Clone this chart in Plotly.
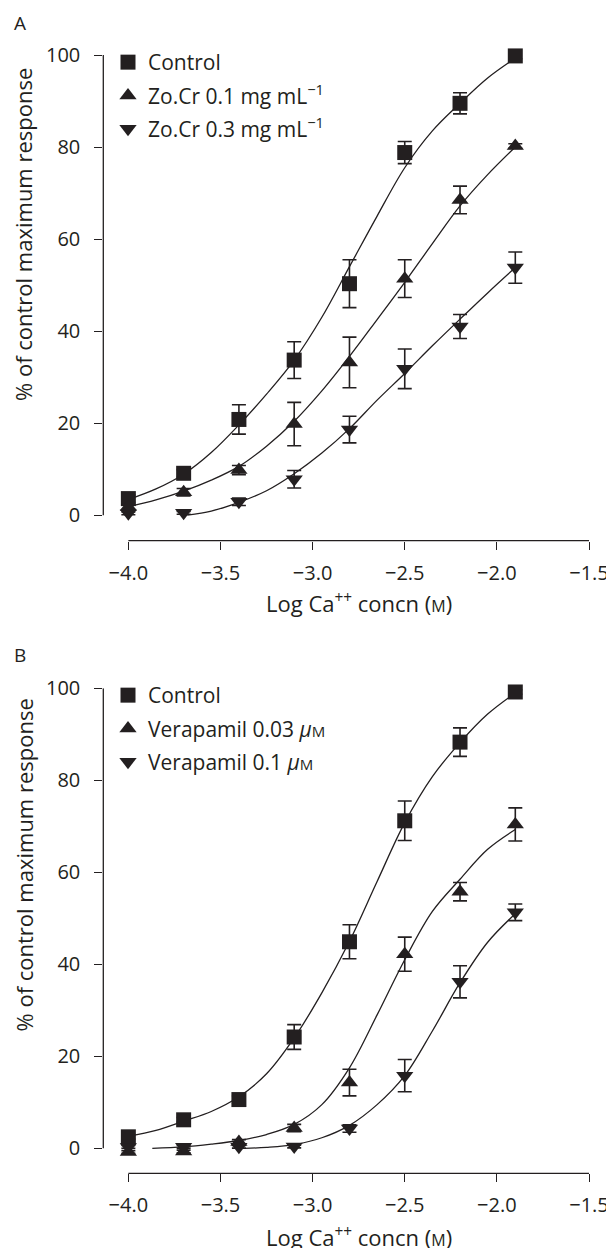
import plotly.graph_objects as go

# ---------------- data ----------------
log_ca = [-4.0, -3.7, -3.4, -3.1, -2.8, -2.5, -2.2, -1.9]
x_ticks = [-4.0, -3.5, -3.0, -2.5, -2.0, -1.5]
x_tick_labels = ["\u22124.0", "\u22123.5", "\u22123.0", "\u22122.5", "\u22122.0", "\u22121.5"]
y_ticks = [0, 20, 40, 60, 80, 100]

# Panel A (mean, SEM)
a_control = [3.6, 9.1, 20.8, 33.7, 50.3, 78.8, 89.5, 99.8]
a_control_sem = [0.8, 0.8, 3.2, 4.0, 5.2, 2.4, 2.3, 0.6]
a_zocr01 = [1.8, 5.0, 9.8, 19.8, 33.2, 51.4, 68.5, 80.2]
a_zocr01_sem = [0.5, 0.8, 1.0, 4.7, 5.5, 4.1, 3.0, 0.5]
a_zocr03 = [0.4, 0.5, 2.9, 7.8, 18.6, 31.8, 41.0, 53.8]
a_zocr03_sem = [0.3, 0.3, 0.8, 1.9, 2.9, 4.3, 2.6, 3.4]

# Panel A fitted curves
a_fit_x = [-4.0, -3.85, -3.7, -3.55, -3.4, -3.25, -3.1, -2.95, -2.8, -2.65, -2.5, -2.35, -2.2, -2.05, -1.9]
a_control_fit = [3.4, 5.7, 8.9, 13.6, 19.6, 26.3, 33.7, 43.0, 54.0, 65.0, 75.5, 83.5, 89.5, 95.0, 99.3]
a_zocr01_fit = [1.8, 3.3, 5.2, 7.6, 10.6, 15.0, 20.4, 27.0, 34.5, 42.5, 50.6, 59.0, 67.2, 74.0, 80.0]
a_zocr03_fit_x = [-3.68, -3.55, -3.4, -3.25, -3.1, -2.95, -2.8, -2.65, -2.5, -2.35, -2.2, -2.05, -1.9]
a_zocr03_fit = [0.0, 0.9, 2.8, 5.3, 9.0, 13.5, 18.8, 25.0, 30.8, 36.8, 42.6, 48.3, 53.8]

# Panel B (mean, SEM)
b_control = [2.5, 6.2, 10.6, 24.2, 44.9, 71.2, 88.3, 99.2]
b_control_sem = [0.5, 0.5, 0.8, 2.7, 3.7, 4.3, 3.1, 0.5]
b_vera003 = [-0.8, -0.7, 1.4, 4.4, 14.3, 42.2, 55.8, 70.4]
b_vera003_sem = [0.3, 0.3, 0.5, 0.8, 2.9, 3.7, 2.0, 3.6]
b_vera01 = [0.3, 0.35, 0.35, 0.4, 4.3, 15.8, 36.2, 51.3]
b_vera01_sem = [0.3, 0.3, 0.3, 0.3, 0.8, 3.5, 3.5, 1.8]

# Panel B fitted curves
b_fit_x = [-4.0, -3.85, -3.7, -3.55, -3.4, -3.25, -3.1, -2.95, -2.8, -2.65, -2.5, -2.35, -2.2, -2.05, -1.9]
b_control_fit = [2.6, 3.9, 5.9, 8.0, 11.2, 16.2, 24.0, 33.8, 45.0, 58.0, 70.8, 80.8, 88.2, 94.4, 99.0]
b_vera003_fit_x = [-3.87, -3.7, -3.55, -3.4, -3.25, -3.1, -2.95, -2.8, -2.65, -2.5, -2.35, -2.2, -2.05, -1.9]
b_vera003_fit = [0.0, 0.3, 0.9, 1.7, 3.0, 5.2, 9.5, 17.5, 29.0, 41.0, 51.5, 58.5, 65.0, 69.3]
b_vera01_fit_x = [-3.37, -3.25, -3.1, -2.95, -2.8, -2.65, -2.5, -2.35, -2.2, -2.05, -1.9]
b_vera01_fit = [0.0, 0.2, 0.8, 2.3, 5.0, 9.5, 15.8, 25.5, 36.0, 44.8, 51.0]

# ---------------- style ----------------
INK = "#231f20"
FONT = "Open Sans"
W, H = 606, 1248


def px_x(p):
    return p / W


def px_y(p):
    return 1 - p / H


fig = go.Figure()


def add_curve(x, y, xa, ya):
    fig.add_trace(go.Scatter(
        x=x, y=y, mode="lines", line=dict(color=INK, width=1.3, shape="spline"),
        xaxis=xa, yaxis=ya, showlegend=False, hoverinfo="skip"))


def add_points(x, y, err, symbol, size, name, xa, ya, legend, group):
    fig.add_trace(go.Scatter(
        x=x, y=y, mode="markers", name=name,
        marker=dict(symbol=symbol, size=size, color=INK, line=dict(width=0)),
        error_y=dict(type="data", array=err, visible=True, color=INK, thickness=1.6, width=7),
        xaxis=xa, yaxis=ya, legend=legend, legendgroup=group, cliponaxis=False))


# Panel A
add_curve(a_fit_x, a_control_fit, "x", "y")
add_curve(a_fit_x, a_zocr01_fit, "x", "y")
add_curve(a_zocr03_fit_x, a_zocr03_fit, "x", "y")
add_points(log_ca, a_control, a_control_sem, "square", 15, "Control", "x", "y", "legend", "a1")
add_points(log_ca, a_zocr01, a_zocr01_sem, "triangle-up", 15, "Zo.Cr 0.1 mg mL<sup>\u22121</sup>", "x", "y", "legend", "a2")
add_points(log_ca, a_zocr03, a_zocr03_sem, "triangle-down", 15, "Zo.Cr 0.3 mg mL<sup>\u22121</sup>", "x", "y", "legend", "a3")

# Panel B
small_m = "<span style='font-size:15px'>M</span>"
add_curve(b_fit_x, b_control_fit, "x2", "y2")
add_curve(b_vera003_fit_x, b_vera003_fit, "x2", "y2")
add_curve(b_vera01_fit_x, b_vera01_fit, "x2", "y2")
add_points(log_ca, b_control, b_control_sem, "square", 15, "Control", "x2", "y2", "legend2", "b1")
add_points(log_ca, b_vera003, b_vera003_sem, "triangle-up", 15, "Verapamil 0.03 <i>\u03bc</i>" + small_m, "x2", "y2", "legend2", "b2")
add_points(log_ca, b_vera01, b_vera01_sem, "triangle-down", 15, "Verapamil 0.1 <i>\u03bc</i>" + small_m, "x2", "y2", "legend2", "b3")

xaxis_common = dict(
    range=[-4.136, -1.5], tickvals=x_ticks, ticktext=x_tick_labels,
    showline=False, showgrid=False, zeroline=False, automargin=False,
    ticks="outside", ticklen=8, tickwidth=1.3, tickcolor=INK,
    tickfont=dict(size=20, color=INK, family=FONT), ticklabelstandoff=6,
    ticklabeloverflow="allow",
    domain=[px_x(103.3), px_x(589.0)], fixedrange=True)
yaxis_common = dict(
    tickvals=y_ticks, showline=False, showgrid=False, zeroline=False, automargin=False,
    ticks="outside", ticklen=8, tickwidth=1.3, tickcolor=INK,
    tickfont=dict(size=20, color=INK, family=FONT), ticklabelstandoff=10,
    ticklabeloverflow="allow", fixedrange=True)

legend_common = dict(
    xanchor="left", yanchor="top", bgcolor="rgba(0,0,0,0)", borderwidth=0,
    font=dict(size=21, color=INK, family=FONT), tracegroupgap=3,
    itemclick=False, itemdoubleclick=False)

x_title = "Log Ca<sup>++</sup> concn (" + "<span style='font-size:16px'>M</span>" + ")"
y_title = "% of control maximum response"


def ann(text, x, y, xref="paper", size=22, angle=0):
    return dict(text=text, x=x, y=y, xref=xref, yref="paper", textangle=angle,
                xanchor="center", yanchor="middle", showarrow=False,
                font=dict(size=size, color=INK, family=FONT))


annotations = [
    ann("A", px_x(20), px_y(22.7), size=19),
    ann("B", px_x(20), px_y(655), size=19),
    ann(y_title, px_x(23), px_y(235), angle=-90),
    ann(y_title, px_x(23), px_y(865.5), angle=-90),
    ann(x_title, -2.75, px_y(603), xref="x"),
    ann(x_title, -2.75, px_y(1236), xref="x2"),
]

line_style = dict(color=INK, width=1.3)
shapes = [
    dict(type="line", xref="x domain", yref="y", x0=0, x1=0, y0=0, y1=100, line=line_style),
    dict(type="line", xref="x", yref="y domain", x0=-4.0, x1=-1.5, y0=0, y1=0, line=line_style),
    dict(type="line", xref="x2 domain", yref="y2", x0=0, x1=0, y0=0, y1=100, line=line_style),
    dict(type="line", xref="x2", yref="y2 domain", x0=-4.0, x1=-1.5, y0=0, y1=0, line=line_style),
]

fig.update_layout(
    width=W, height=H, autosize=False,
    margin=dict(l=0, r=0, t=0, b=0, pad=0, autoexpand=False),
    paper_bgcolor="white", plot_bgcolor="white",
    font=dict(family=FONT, color=INK),
    xaxis=dict(**xaxis_common, anchor="y"),
    yaxis=dict(**yaxis_common, range=[-5.55, 100], domain=[px_y(540.7), px_y(55.0)], anchor="x"),
    xaxis2=dict(**xaxis_common, anchor="y2"),
    yaxis2=dict(**yaxis_common, range=[-5.43, 100], domain=[px_y(1173.3), px_y(688.3)], anchor="x2"),
    legend=dict(**legend_common, x=px_x(108), y=px_y(42)),
    legend2=dict(**legend_common, x=px_x(108), y=px_y(675)),
    annotations=annotations,
    shapes=shapes,
    showlegend=True,
)

fig.write_html(
    "out.html",
    config={"displayModeBar": False},
    post_script="document.body.style.margin='0';document.body.style.overflow='hidden';",
)
